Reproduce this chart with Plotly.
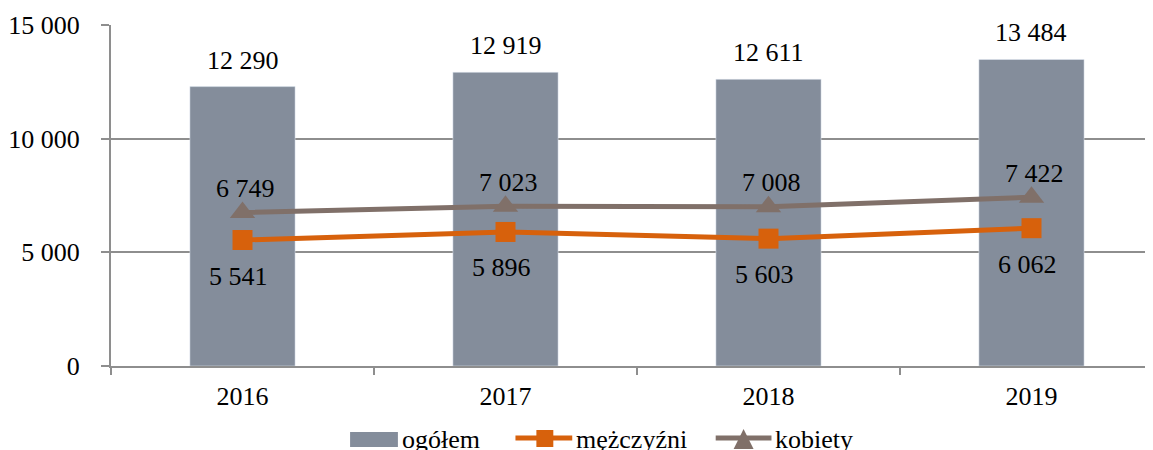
import plotly.graph_objects as go

years = ["2016", "2017", "2018", "2019"]
ogolem = [12290, 12919, 12611, 13484]
mezczyzni = [5541, 5896, 5603, 6062]
kobiety = [6749, 7023, 7008, 7422]
y_ticks = [0, 5000, 10000, 15000]
legend_names = ["ogółem", "mężczyźni", "kobiety"]

BAR = "#848D9B"
ORANGE = "#D7610C"
BROWN = "#807069"
GRID = "#8E8E8E"
FONT = "Times New Roman, Liberation Serif, DejaVu Serif, serif"
FS = 26

def fmt(v):
    return f"{v:,}".replace(",", " ")

OFF = 8  # page body margin
W, H = 1153, 450
ML, MT, MR = 107 - OFF, 25 - OFF, 0
MB = H - (366 - OFF)
PW, PH = W - ML - MR, H - MT - MB
CAT_PX = 264

fig = go.Figure()
fig.add_trace(go.Bar(x=years, y=ogolem, name=legend_names[0], marker_color=BAR,
                     width=0.40, showlegend=False))
fig.add_trace(go.Scatter(x=years, y=mezczyzni, name=legend_names[1], mode="lines+markers",
                         line=dict(color=ORANGE, width=5),
                         marker=dict(symbol="square", size=20, color=ORANGE),
                         showlegend=False))
fig.add_trace(go.Scatter(x=years, y=kobiety, name=legend_names[2], mode="lines+markers",
                         line=dict(color=BROWN, width=5),
                         marker=dict(symbol="triangle-up", size=22, color=BROWN),
                         showlegend=False))

ann = []
for i, v in enumerate(ogolem):
    ann.append(dict(x=i, y=v, xref="x", yref="y", text=fmt(v), showarrow=False,
                    yanchor="bottom", yshift=10,
                    font=dict(family=FONT, size=FS, color="black")))
for i, v in enumerate(kobiety):
    ann.append(dict(x=i, y=v, xref="x", yref="y", text=fmt(v), showarrow=False,
                    yanchor="middle", yshift=24, xshift=3,
                    font=dict(family=FONT, size=FS, color="black")))
for i, v in enumerate(mezczyzni):
    ann.append(dict(x=i, y=v, xref="x", yref="y", text=fmt(v), showarrow=False,
                    yanchor="middle", yshift=-36, xshift=-4,
                    font=dict(family=FONT, size=FS, color="black")))

# custom legend (window pixel -> paper)
def px(x):
    return (x - OFF - ML) / PW
def py(y):
    return (H - MB - (y - OFF)) / PH

shapes = []
shapes.append(dict(type="rect", xref="paper", yref="paper", x0=px(347), x1=px(395),
                   y0=py(447), y1=py(432), fillcolor=BAR, line=dict(width=0)))
shapes.append(dict(type="line", xref="paper", yref="paper", x0=px(513), x1=px(570),
                   y0=py(438), y1=py(438), line=dict(color=ORANGE, width=5)))
shapes.append(dict(type="rect", xref="paper", yref="paper", x0=px(534), x1=px(551),
                   y0=py(447), y1=py(430), fillcolor=ORANGE, line=dict(width=0)))
shapes.append(dict(type="line", xref="paper", yref="paper", x0=px(714), x1=px(770),
                   y0=py(438), y1=py(438), line=dict(color=BROWN, width=5)))
shapes.append(dict(type="path", xref="paper", yref="paper",
                   path=f"M {px(732)} {py(449)} L {px(752)} {py(449)} L {px(742)} {py(429)} Z",
                   fillcolor=BROWN, line=dict(width=0)))
for name, xl in zip(legend_names, [397, 572, 772]):
    ann.append(dict(xref="paper", yref="paper", x=px(xl), y=py(439), text=name, showarrow=False,
                    xanchor="left", yanchor="middle",
                    font=dict(family=FONT, size=FS, color="black")))

fig.update_layout(
    width=W, height=H,
    margin=dict(l=ML, r=MR, t=MT, b=MB),
    plot_bgcolor="white", paper_bgcolor="white",
    separators=", ",
    showlegend=False,
    annotations=ann,
    shapes=shapes,
    font=dict(family=FONT, size=FS, color="black"),
    xaxis=dict(type="category", range=[-0.5, -0.5 + PW / CAT_PX], tickson="boundaries",
               ticks="outside", ticklen=7, tickcolor=GRID, tickwidth=2,
               showline=True, linecolor=GRID, linewidth=2, showgrid=False,
               tickfont=dict(family=FONT, size=FS, color="black"), ticklabelstandoff=6),
    yaxis=dict(range=[0, 15000], tickvals=y_ticks, ticktext=[fmt(v) for v in y_ticks],
               ticks="outside", ticklen=8, tickcolor=GRID, tickwidth=2,
               showline=True, linecolor=GRID, linewidth=2,
               showgrid=True, gridcolor=GRID, gridwidth=2, zeroline=False,
               tickfont=dict(family=FONT, size=FS, color="black"), ticklabelstandoff=16),
)

fig.write_html("out.html")
